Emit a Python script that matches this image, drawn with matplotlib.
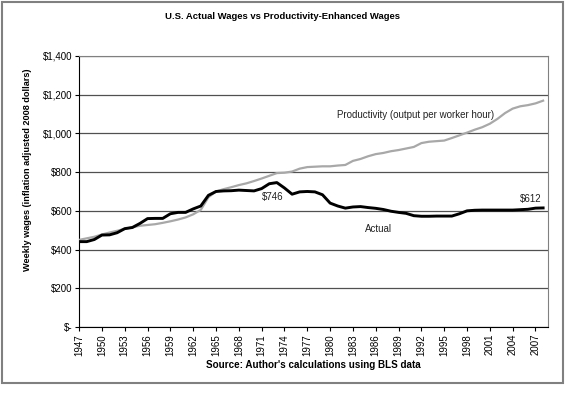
import numpy as np
import matplotlib.pyplot as plt
from matplotlib.patches import Rectangle
from matplotlib.ticker import FuncFormatter

plt.rcParams['font.family'] = ['Liberation Sans', 'DejaVu Sans']

years = list(range(1947, 2009))

# weekly wages, inflation adjusted
actual = [441, 441, 452, 475, 476, 487, 508, 514, 535, 560,
          561, 561, 585, 592, 592, 610, 625, 680, 700, 703,
          704, 707, 705, 703, 715, 740, 746, 718, 686, 698,
          700, 698, 683, 640, 625, 614, 620, 622, 617, 613,
          607, 598, 592, 587, 575, 572, 572, 573, 573, 573,
          585, 600, 603, 604, 604, 604, 604, 604, 606, 608,
          614, 615]
productivity = [450, 458, 466, 478, 488, 497, 507, 515, 523, 527,
                531, 538, 546, 555, 566, 582, 605, 670, 700, 712,
                722, 733, 742, 754, 767, 781, 795, 797, 803, 818,
                826, 828, 830, 830, 834, 837, 858, 868, 882, 893,
                899, 908, 914, 922, 930, 950, 957, 960, 963, 976,
                990, 1004, 1019, 1032, 1050, 1075, 1105, 1128, 1140, 1146,
                1155, 1169]

tick_years = list(range(1947, 2008, 3))
y_ticks = [0, 200, 400, 600, 800, 1000, 1200, 1400]

fig = plt.figure(figsize=(5.65, 3.94), dpi=100)
ax = fig.add_axes([0.140, 0.170, 0.830, 0.688])

ax.plot(years, productivity, color='#a8a8a8', lw=1.6, zorder=3)
ax.plot(years, actual, color='black', lw=2.1, zorder=4)

ax.set_xlim(1947, 2008.65)
ax.set_ylim(0, 1400)
ax.set_yticks(y_ticks)
ax.yaxis.set_major_formatter(FuncFormatter(lambda v, p: '$-' if v == 0 else '${:,.0f}'.format(v)))
ax.set_xticks(tick_years)
ax.set_xticklabels([str(y) for y in tick_years], rotation=90)
ax.tick_params(axis='both', labelsize=7, length=3, width=0.8, color='black', pad=2)
ax.grid(axis='y', color='#505050', lw=0.9)
ax.set_axisbelow(True)

for s in ['top', 'right']:
    ax.spines[s].set_color('#808080')
for s in ['left', 'bottom']:
    ax.spines[s].set_color('black')

ax.set_ylabel('Weekly wages (inflation adjusted 2008 dollars)', fontsize=6.6, fontweight='bold')
ax.yaxis.set_label_coords(-0.100, 0.58)
ax.set_xlabel("Source: Author's calculations using BLS data", fontsize=7.1, fontweight='bold', labelpad=3)
fig.text(0.5, 0.957, 'U.S. Actual Wages vs Productivity-Enhanced Wages', ha='center', va='center',
         fontsize=6.8, fontweight='bold')

ax.text(1991.2, 1095, 'Productivity (output per worker hour)', fontsize=7, ha='center', va='center', color='#222222')
ax.text(1986.4, 505, 'Actual', fontsize=7, ha='center', va='center', color='#222222')
ax.text(1972.5, 673, '$746', fontsize=7, ha='center', va='center', color='#222222')
ax.text(2006.4, 660, '$612', fontsize=7, ha='center', va='center', color='#222222')

fig.patches.append(Rectangle((0.003, 0.028), 0.993, 0.967, transform=fig.transFigure,
                             fill=False, edgecolor='#808080', lw=1.5))

plt.savefig('out.png', dpi=100)
